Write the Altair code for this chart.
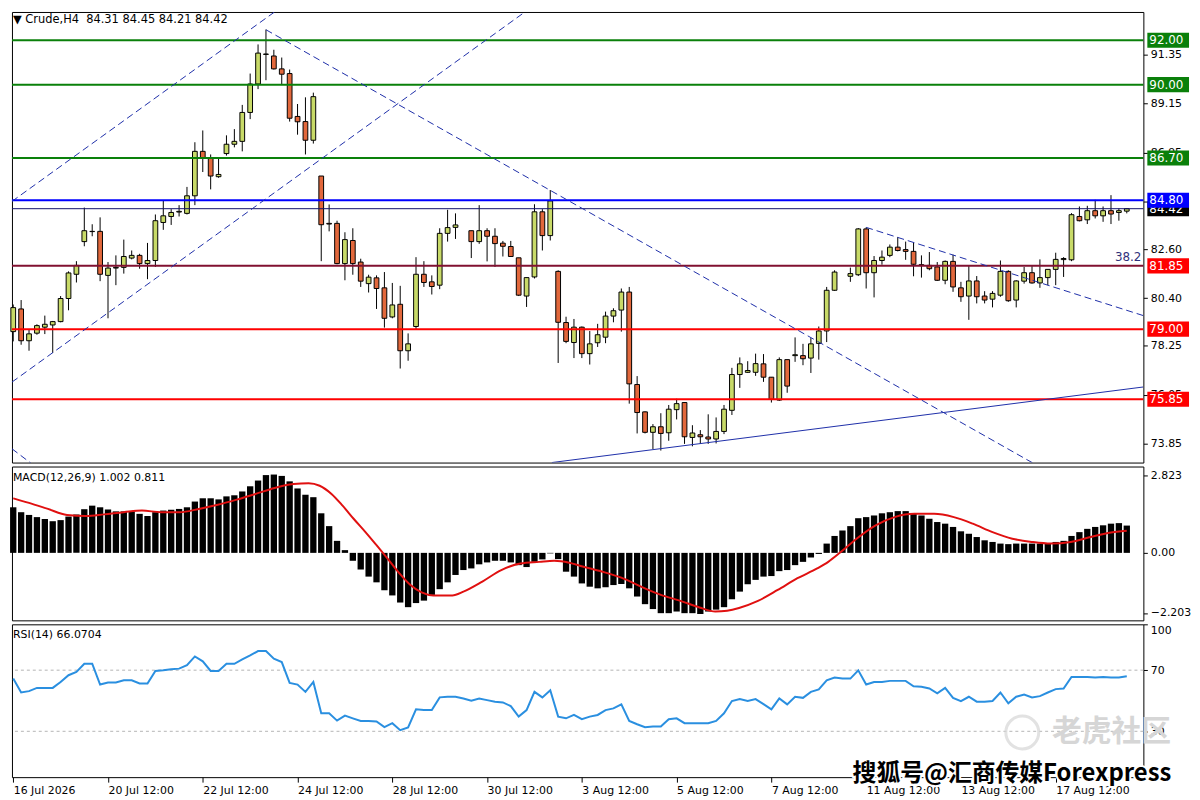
import altair as alt
import pandas as pd

FONT = "DejaVu Sans"
CJK = "Noto Sans CJK SC"
W = 1140
H_MAIN, H_MACD, H_RSI = 454, 155, 154

# ---------------- data ----------------
opens = [78.89,79.91,78.48,78.82,79.09,79.19,79.34,80.38,81.47,82.94,
         83.39,83.40,81.42,81.75,81.78,82.20,82.32,81.95,82.09,83.80,
         84.07,84.27,84.21,85.00,87.00,86.71,85.86,86.90,87.32,87.45,
         88.75,90.03,91.36,91.29,90.71,90.50,88.57,88.34,87.50,85.89,
         83.76,83.76,81.95,82.99,82.02,81.05,81.31,80.86,79.55,80.12,
         78.03,79.12,81.47,81.13,80.98,83.31,83.58,None,83.43,82.94,
         83.43,83.18,82.87,82.72,82.21,80.49,81.35,84.28,83.21,81.60,
         79.30,78.40,79.09,77.90,78.39,78.64,79.59,79.86,80.67,76.51,
         75.28,74.36,74.61,74.34,75.38,75.70,74.13,74.25,74.15,74.06,
         74.40,75.35,76.96,77.06,77.06,77.44,76.84,75.81,77.63,77.81,
         77.81,77.70,78.36,78.92,80.75,None,81.38,81.45,83.51,81.54,
         82.09,82.32,82.69,82.58,82.50,81.90,81.87,81.80,81.20,82.05,
         80.86,80.49,81.17,80.49,80.35,80.53,81.60,80.31,81.16,81.54,
         81.08,81.32,81.69,82.13,82.12,84.07,83.92,84.33,84.10,84.33,
         84.25,84.31]
highs = [80.11,80.31,78.97,79.22,79.61,79.37,80.49,81.60,82.06,84.47,
         83.72,84.03,82.02,82.32,83.03,82.54,82.39,82.88,84.16,84.77,
         84.40,84.58,85.40,87.41,87.94,86.86,86.71,87.72,88.00,89.09,
         90.50,91.81,92.48,91.57,91.22,90.68,89.13,89.43,89.64,85.89,
         84.61,83.88,83.36,83.54,82.17,81.45,81.42,81.57,81.08,80.95,
         78.81,82.24,82.06,81.42,83.54,84.37,84.21,None,83.43,84.58,
         83.54,83.54,82.97,82.97,82.21,81.32,84.62,84.40,85.26,81.65,
         79.56,79.46,79.12,78.92,79.24,79.79,79.94,80.83,80.90,76.89,
         75.30,74.73,75.22,75.59,75.87,75.70,74.68,74.46,75.17,75.03,
         75.59,77.26,77.73,77.56,77.90,77.88,76.84,77.73,77.63,78.63,
         78.34,78.60,79.12,80.90,81.65,None,81.77,83.55,83.58,82.29,
         82.54,82.81,83.14,82.94,82.91,82.32,82.47,82.02,82.09,82.35,
         81.13,81.84,81.39,80.71,80.71,82.09,81.65,81.20,81.80,81.84,
         82.14,81.69,82.44,82.24,84.22,84.52,84.55,84.82,84.52,85.03,
         84.43,84.45]
lows = [78.45,78.30,78.03,78.75,78.78,77.93,79.31,79.85,81.10,82.73,
        83.18,81.16,79.49,80.98,81.50,82.14,81.72,81.25,81.80,83.47,
        83.69,84.07,84.16,84.58,86.07,85.29,85.81,86.81,87.18,87.00,
        88.45,89.80,90.20,90.68,89.98,88.34,87.75,86.86,87.35,82.06,
        83.40,81.92,81.20,81.45,80.90,80.65,79.91,79.07,79.49,77.23,
        77.58,78.97,80.90,80.56,80.80,82.94,83.06,None,82.20,82.84,
        82.05,81.80,82.27,82.27,80.49,80.00,81.28,82.54,82.99,77.48,
        78.37,77.70,77.70,77.41,78.20,78.37,79.31,78.89,75.65,74.31,
        74.31,73.61,73.54,73.98,74.94,73.84,73.73,73.84,73.84,73.86,
        74.28,75.14,76.36,77.03,76.90,76.63,75.70,75.77,76.14,77.53,
        77.38,77.03,77.63,78.42,80.72,None,81.13,81.39,80.83,80.43,
        81.90,82.24,82.50,82.12,81.38,81.32,81.65,81.17,81.02,80.68,
        80.23,79.42,80.16,80.16,79.98,80.46,80.23,79.98,81.05,81.05,
        80.86,80.98,80.98,81.35,82.06,83.85,83.73,83.98,83.83,83.73,
        83.88,84.21]
closes = [79.97,78.48,78.79,79.16,79.22,79.34,80.38,81.53,81.87,83.43,
          83.40,81.47,81.75,81.78,82.27,82.32,81.95,82.09,83.88,84.10,
          84.25,84.30,85.00,87.00,86.71,85.89,85.96,87.32,87.45,88.75,
          90.03,91.42,91.38,90.71,90.47,88.49,88.33,87.50,89.46,83.70,
          83.73,81.95,83.03,81.95,81.16,81.34,80.83,79.49,80.09,78.03,
          78.34,81.47,81.10,80.92,83.31,83.57,83.69,None,82.94,83.43,
          83.18,82.85,82.73,82.27,80.53,81.32,84.28,83.21,84.77,79.31,
          78.45,79.09,77.90,78.34,78.75,79.59,79.83,80.67,76.54,75.25,
          74.36,74.61,74.31,75.40,75.65,74.16,74.33,74.16,74.06,74.40,
          75.40,76.96,77.44,77.14,77.45,76.84,75.84,77.63,76.44,77.85,
          77.67,78.34,78.92,80.75,81.57,None,81.50,83.51,81.54,82.09,
          82.24,82.69,82.54,82.50,81.92,81.87,81.72,81.20,82.05,80.90,
          80.46,81.17,80.46,80.31,80.61,81.60,80.28,81.17,81.54,81.08,
          81.32,81.69,82.14,82.18,84.15,83.88,84.33,84.10,84.33,84.18,
          84.33,84.42]

macd_hist = [1.67,1.49,1.39,1.31,1.24,1.16,1.20,1.33,1.41,1.60,
             1.73,1.67,1.59,1.52,1.52,1.52,1.43,1.35,1.49,1.55,
             1.58,1.61,1.67,1.88,2.00,2.00,1.96,2.07,2.11,2.25,
             2.44,2.65,2.85,2.87,2.82,2.62,2.36,2.13,2.04,1.45,
             0.98,0.44,0.10,-0.29,-0.61,-0.87,-1.08,-1.37,-1.56,-1.82,
             -1.99,-1.84,-1.75,-1.54,-1.33,-1.08,-0.81,-0.63,-0.57,-0.42,
             -0.35,-0.29,-0.29,-0.35,-0.45,-0.52,-0.33,-0.24,-0.02,-0.23,
             -0.69,-0.87,-1.12,-1.24,-1.30,-1.26,-1.18,-1.14,-1.30,-1.60,
             -1.88,-2.06,-2.21,-2.21,-2.15,-2.21,-2.21,-2.24,-2.15,-2.08,
             -1.99,-1.70,-1.42,-1.15,-0.99,-0.87,-0.85,-0.67,-0.63,-0.45,
             -0.33,-0.17,-0.04,0.34,0.62,0.82,0.98,1.27,1.31,1.37,
             1.45,1.49,1.53,1.53,1.45,1.37,1.25,1.13,1.07,0.95,
             0.79,0.70,0.58,0.46,0.40,0.34,0.32,0.34,0.34,0.34,
             0.34,0.36,0.40,0.44,0.62,0.76,0.88,0.95,1.01,1.07,
             1.09,1.00]

sig_idx = [0, 2, 4.4, 6.8, 9.2, 11.5, 14, 16.3, 18.7, 21.1, 23.5, 25.9, 28.3,
           30.7, 33.1, 35.5, 37.4, 38.8, 40.3, 41.7, 43.1, 44.6, 46, 47.4, 48.9,
           50.3, 51.7, 53.2, 55.6, 57, 59.4, 61.8, 64.2, 66.6, 68.5, 70.4, 72.1,
           74.6, 77.0, 79.5, 82.0, 84.5, 86.9, 88.9, 90.4, 91.9, 94.3, 96.8, 99.3,
           101.8, 103.2, 104.7, 106.7, 109.2, 111.6, 114.1, 116.6, 119.1, 121.5,
           124.0, 126.5, 129.0, 131.4, 133.9, 136.4, 138.8, 141.0]
sig_val = [2.00, 1.83, 1.61, 1.39, 1.35, 1.41, 1.49, 1.55, 1.49, 1.49, 1.61, 1.76, 1.95,
           2.16, 2.38, 2.52, 2.55, 2.46, 2.16, 1.73, 1.25, 0.76, 0.28, -0.21, -0.75,
           -1.18, -1.45, -1.56, -1.56, -1.42, -1.05, -0.63, -0.39, -0.33, -0.29, -0.36, -0.50,
           -0.69, -0.91, -1.24, -1.54, -1.76, -2.00, -2.15, -2.12, -2.02, -1.76, -1.36, -0.93,
           -0.57, -0.33, 0.01, 0.50, 1.01, 1.31, 1.43, 1.43, 1.31, 1.07,
           0.76, 0.52, 0.40, 0.34, 0.40, 0.58, 0.74, 0.81]

rsi = [64.5,55.4,56.3,58.4,58.4,58.4,62.3,66.7,68.8,74.2,
       74.2,60.6,61.9,61.9,63.4,63.4,61.3,61.3,69.5,69.9,
       70.6,71.0,73.2,79.0,75.8,69.5,69.5,74.2,74.2,77.1,
       79.7,82.5,82.5,77.5,75.3,61.7,60.6,55.8,62.3,41.8,
       41.8,37.0,40.3,38.5,36.8,36.8,36.4,32.7,35.3,30.7,
       32.5,44.4,43.9,43.9,52.2,52.6,52.6,51.5,50.0,51.5,
       50.4,49.4,48.9,46.5,39.6,43.9,55.8,52.2,56.9,39.6,
       38.5,40.7,37.9,39.6,40.7,43.9,45.0,47.6,36.8,34.6,
       32.7,33.1,33.1,37.9,38.5,35.3,35.3,35.3,35.3,36.8,
       41.8,49.8,51.1,49.8,51.1,47.8,44.4,51.5,47.6,52.6,
       51.9,55.8,57.4,63.4,65.2,64.5,64.5,69.9,60.6,62.3,
       62.3,63.0,63.0,63.0,59.5,59.1,58.0,54.8,58.4,51.9,
       49.8,52.6,49.4,49.4,49.8,55.4,48.3,52.6,54.1,52.2,
       53.0,55.4,57.6,58.0,65.6,65.6,65.6,65.2,65.6,65.2,
       65.2,66.07]

level_vals = [92.00, 90.00, 86.70, 84.42, 81.85, 79.00, 75.85, 84.80]
level_kind = ["green", "green", "green", "current", "maroon", "red", "red", "blue"]

# drawn trend lines (bar index, price)
dash_x0 = [-0.16, -0.16, 32.0, -0.16, 108.0]
dash_y0 = [84.75, 76.62, 92.47, 73.62, 83.58]
dash_x1 = [35.0, 66.0, 131.0, 2.5, 143.1]
dash_y1 = [93.76, 93.58, 72.60, 72.90, 79.61]
solid_x0 = [68.2]
solid_y0 = [73.0]
solid_x1 = [143.1]
solid_y1 = [76.40]

price_ticks = [73.85, 76.05, 78.25, 80.40, 82.60, 84.75, 86.95, 89.15, 91.35]
macd_ticks = [2.823, 0.0, -2.203]
rsi_ticks = [100, 70, 30, 0]
x_tick_idx = [0, 12, 24, 36, 48, 60, 72, 84, 96, 108, 120, 132]
x_tick_lab = ["16 Jul 2026", "20 Jul 12:00", "22 Jul 12:00", "24 Jul 12:00",
              "28 Jul 12:00", "30 Jul 12:00", "3 Aug 12:00", "5 Aug 12:00",
              "7 Aug 12:00", "11 Aug 12:00", "13 Aug 12:00", "17 Aug 12:00"]

main_title = "\u25bc Crude,H4\u00a0\u00a084.31 84.45 84.21 84.42"
macd_title = "MACD(12,26,9) 1.002 0.811"
rsi_title = "RSI(14) 66.0704"

# ---------------- styles ----------------
BULL = "#c8da68"
BEAR = "#e2683c"
NAVY = "#1e2ea8"
LINE_COL = {"green": "#0a800a", "current": "#10106a", "maroon": "#801030",
            "red": "#ff0000", "blue": "#0000ff"}
BOX_COL = {"green": "#0a800a", "current": "#000000", "maroon": "#ff0000",
           "red": "#ff0000", "blue": "#0000ff"}
LINE_W = {"green": 2, "current": 1, "maroon": 2, "red": 2, "blue": 2}

X_DOM = [-0.16, 143.1]
Y_DOM = [73.0, 93.27]
MACD_DOM = [-2.473, 3.164]

xs = alt.Scale(domain=X_DOM, nice=False, zero=False)
ys = alt.Scale(domain=Y_DOM, nice=False, zero=False)
ms = alt.Scale(domain=MACD_DOM, nice=False, zero=False)
rs = alt.Scale(domain=[0, 100], nice=False, zero=False)

def yaxis(values, fmt=None, expr=None, flush=False):
    kw = dict(orient="right", values=values, grid=False, domain=False, ticks=True,
              tickSize=4, tickColor="black", labelFont=FONT, labelFontSize=11,
              labelColor="black", labelPadding=3, title=None, labelFlush=flush,
              labelOverlap=False)
    if fmt:
        kw["format"] = fmt
    if expr:
        kw["labelExpr"] = expr
    return alt.Axis(**kw)

PAX = yaxis(price_ticks, fmt=".2f")
MAX = yaxis(macd_ticks, expr="datum.value == 0 ? '0.00' : format(datum.value, '.3f')")
RAX = yaxis(rsi_ticks, fmt="d", flush=True)

# ---------------- main panel ----------------
cd = pd.DataFrame({"i": list(range(len(opens))), "o": opens, "h": highs,
                   "l": lows, "c": closes}).dropna()
cd["x0"] = cd["i"] - 0.3
cd["x1"] = cd["i"] + 0.3
cd["dir"] = ["up" if c >= o else "down" for o, c in zip(cd["o"], cd["c"])]

wicks = alt.Chart(cd).mark_rule(color="black", strokeWidth=1).encode(
    x=alt.X("i:Q", scale=xs, axis=None),
    y=alt.Y("l:Q", scale=ys, axis=PAX),
    y2="h:Q")

bodies = alt.Chart(cd).mark_rect(stroke="black", strokeWidth=1).encode(
    x=alt.X("x0:Q", scale=xs, axis=None), x2="x1:Q",
    y=alt.Y("o:Q", scale=ys, axis=PAX), y2="c:Q",
    fill=alt.Fill("dir:N", scale=alt.Scale(domain=["up", "down"], range=[BULL, BEAR]),
                  legend=None))

lv = pd.DataFrame({"lv": level_vals, "kind": level_kind})
lv["lab"] = [f"{v:.2f}" for v in lv["lv"]]
lv["lc"] = [LINE_COL[k] for k in lv["kind"]]
lv["bc"] = [BOX_COL[k] for k in lv["kind"]]
lv["sw"] = [LINE_W[k] for k in lv["kind"]]
lv["lo"] = lv["lv"] - 0.34
lv["hi"] = lv["lv"] + 0.34

levels = alt.Chart(lv).mark_rule().encode(
    y=alt.Y("lv:Q", scale=ys, axis=PAX),
    color=alt.Color("lc:N", scale=None),
    strokeWidth=alt.StrokeWidth("sw:Q", scale=None))

dl = pd.DataFrame({"x0": dash_x0, "y0": dash_y0, "x1": dash_x1, "y1": dash_y1})
dashed = alt.Chart(dl).mark_rule(clip=True, color=NAVY, strokeWidth=1,
                                 strokeDash=[7, 4]).encode(
    x=alt.X("x0:Q", scale=xs, axis=None), x2="x1:Q",
    y=alt.Y("y0:Q", scale=ys, axis=PAX), y2="y1:Q")

sl = pd.DataFrame({"x0": solid_x0, "y0": solid_y0, "x1": solid_x1, "y1": solid_y1})
solid = alt.Chart(sl).mark_rule(clip=True, color=NAVY, strokeWidth=1).encode(
    x=alt.X("x0:Q", scale=xs, axis=None), x2="x1:Q",
    y=alt.Y("y0:Q", scale=ys, axis=PAX), y2="y1:Q")

def boxes(df):
    b = alt.Chart(df).mark_rect().encode(
        x=alt.value(W + 4), x2=alt.value(W + 46),
        y=alt.Y("lo:Q", scale=ys, axis=PAX), y2="hi:Q",
        fill=alt.Fill("bc:N", scale=None))
    t = alt.Chart(df).mark_text(align="left", baseline="middle", color="white",
                                font=FONT, fontSize=12).encode(
        x=alt.value(W + 6), y=alt.Y("lv:Q", scale=ys, axis=PAX), text="lab:N")
    return b + t

boxes1 = boxes(lv[lv["kind"] != "blue"])
boxes2 = boxes(lv[lv["kind"] == "blue"])

fib = alt.Chart(pd.DataFrame({"t": ["38.2"], "y": [81.88]})).mark_text(
    align="right", baseline="bottom", color="#30307a", font=FONT, fontSize=12, dy=-1
).encode(x=alt.value(W - 2), y=alt.Y("y:Q", scale=ys, axis=PAX), text="t:N")

mtitle = alt.Chart(pd.DataFrame({"t": [main_title]})).mark_text(
    align="left", baseline="top", font=FONT, fontSize=11.5, color="black"
).encode(x=alt.value(1), y=alt.value(2), text="t:N")

main = alt.layer(wicks, bodies, levels, dashed, solid, boxes1, boxes2, fib, mtitle
                 ).properties(width=W, height=H_MAIN)

# ---------------- MACD panel ----------------
md = pd.DataFrame({"i": list(range(len(macd_hist))), "h": macd_hist})
md["x0"] = md["i"] - 0.4
md["x1"] = md["i"] + 0.4
md["z"] = 0.0

bars = alt.Chart(md).mark_rect(color="black").encode(
    x=alt.X("x0:Q", scale=xs, axis=None), x2="x1:Q",
    y=alt.Y("h:Q", scale=ms, axis=MAX),
    y2="z:Q")

sg = pd.DataFrame({"i": sig_idx, "v": sig_val})
signal = alt.Chart(sg).mark_line(color="#e01010", strokeWidth=2,
                                 interpolate="monotone").encode(
    x=alt.X("i:Q", scale=xs, axis=None), y=alt.Y("v:Q", scale=ms, axis=MAX))

mt = alt.Chart(pd.DataFrame({"t": [macd_title]})).mark_text(
    align="left", baseline="top", font=FONT, fontSize=11, color="black"
).encode(x=alt.value(1), y=alt.value(6), text="t:N")

macd = alt.layer(bars, signal, mt).properties(width=W, height=H_MACD)

# ---------------- RSI panel ----------------
rd = pd.DataFrame({"i": list(range(len(rsi))), "v": rsi})
lab_arr = "[" + ",".join(f"'{s}'" for s in x_tick_lab) + "]"
xaxis = alt.Axis(values=x_tick_idx, labelExpr=f"{lab_arr}[round(datum.value/12)]",
                 orient="bottom", grid=False, domain=False, tickSize=5,
                 tickColor="black", labelAlign="left", labelBaseline="top",
                 labelPadding=2, labelFlush=False, labelOverlap=False,
                 labelFont=FONT, labelFontSize=11, labelColor="black", title=None)

rlev = alt.Chart(pd.DataFrame({"v": [70, 30]})).mark_rule(
    color="#b4b4b4", strokeWidth=1, strokeDash=[3, 3]).encode(
    y=alt.Y("v:Q", scale=rs, axis=RAX))

rline = alt.Chart(rd).mark_line(color="#2a8fe0", strokeWidth=2).encode(
    x=alt.X("i:Q", scale=xs, axis=xaxis),
    y=alt.Y("v:Q", scale=rs, axis=RAX))

rt = alt.Chart(pd.DataFrame({"t": [rsi_title]})).mark_text(
    align="left", baseline="top", font=FONT, fontSize=11, color="black"
).encode(x=alt.value(1), y=alt.value(5), text="t:N")

one = pd.DataFrame({"t": ["搜狐号@汇商传媒Forexpress"]})
wm_halo = alt.Chart(one).mark_text(
    align="left", baseline="middle", font=CJK, fontSize=24, fontWeight="bold",
    color="white", stroke="white", strokeWidth=4
).encode(x=alt.value(847), y=alt.value(151), text="t:N")
wm_text = alt.Chart(one).mark_text(
    align="left", baseline="middle", font=CJK, fontSize=24, fontWeight="bold",
    color="black"
).encode(x=alt.value(847), y=alt.value(151), text="t:N")

tiger = alt.Chart(pd.DataFrame({"t": ["老虎社区"]})).mark_text(
    align="left", baseline="middle", font=CJK, fontSize=30, fontWeight="bold",
    color="#d6d6d6"
).encode(x=alt.value(1048), y=alt.value(109), text="t:N")
logo = alt.Chart(pd.DataFrame({"a": [0]})).mark_point(
    shape="circle", filled=False, size=1100, stroke="#d6d6d6", strokeWidth=3
).encode(x=alt.value(1018), y=alt.value(109))

rsi_panel = alt.layer(rlev, rline, rt, logo, tiger, wm_halo, wm_text
                      ).properties(width=W, height=H_RSI)

chart = alt.vconcat(main, macd, rsi_panel, spacing=2).properties(
    padding={"left": 0, "top": 0, "right": 0, "bottom": 0},
    background="white"
).configure_view(stroke="black", strokeWidth=1)

chart.save("out.html", embed_options={"renderer": "svg", "actions": False})
